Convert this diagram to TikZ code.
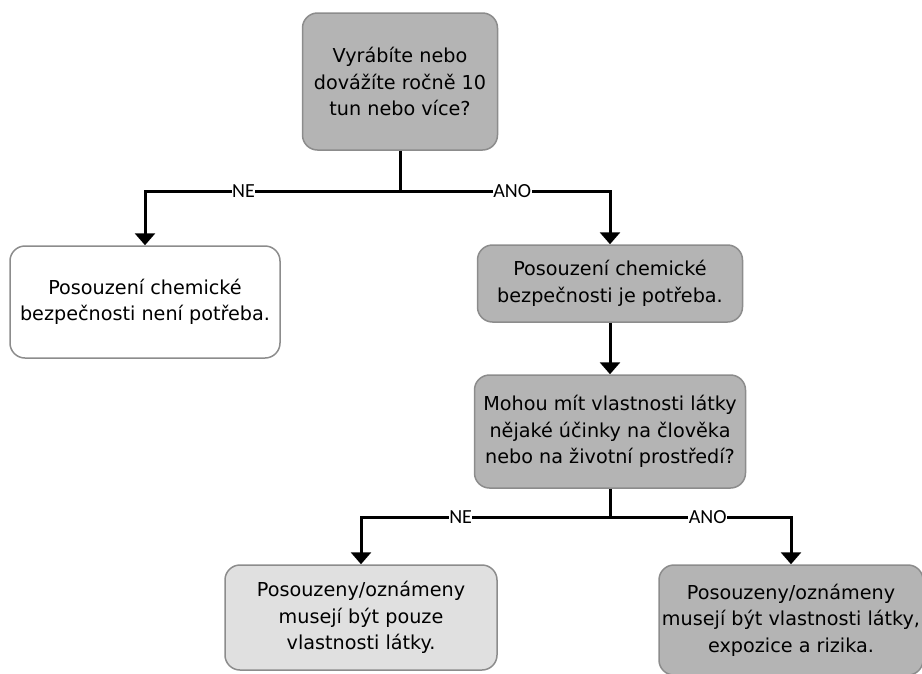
\documentclass[tikz,border=0pt]{standalone}
\usepackage{fontspec}
\setmainfont{DejaVu Sans}
\newfontfamily\labelfont{Carlito}
\usetikzlibrary{arrows.meta}

\definecolor{boxdark}{RGB}{180,180,180}
\definecolor{boxlight}{RGB}{224,224,224}
\definecolor{boxline}{RGB}{140,140,140}

\tikzset{
	box/.style={draw=boxline, line width=1.5pt, rounded corners=15pt, align=center,
		font=\fontsize{19.2}{26.5}\selectfont, inner sep=0pt},
	flow/.style={line width=3pt},
	flowarrow/.style={flow, -{Triangle[width=20pt,length=12pt]}},
	answer/.style={fill=white, inner sep=0.5pt, font=\labelfont\fontsize{20}{22}\selectfont}
}

\begin{document}
\begin{tikzpicture}[x=1pt,y=-1pt]
	\useasboundingbox (0,0) rectangle (922,673);
	\node[box, fill=boxdark, minimum width=195, minimum height=137] (tonnage) at (400,81.5)
		{Vyrábíte nebo\\dovážíte ročně 10\\tun nebo více?};
	\node[box, fill=white, minimum width=270, minimum height=112] (notneeded) at (145,302)
		{Posouzení chemické\\bezpečnosti není potřeba.};
	\node[box, fill=boxdark, minimum width=265, minimum height=77] (needed) at (610,283.5)
		{Posouzení chemické\\bezpečnosti je potřeba.};
	\node[box, fill=boxdark, minimum width=271, minimum height=113] (effects) at (610,431.5)
		{Mohou mít vlastnosti látky\\nějaké účinky na člověka\\nebo na životní prostředí?};
	\node[box, fill=boxlight, minimum width=272, minimum height=105] (propsonly) at (361,617.5)
		{Posouzeny/oznámeny\\musejí být pouze\\vlastnosti látky.};
	\node[box, fill=boxdark, minimum width=264, minimum height=110] (propsrisk) at (791,620)
		{Posouzeny/oznámeny\\musejí být vlastnosti látky,\\expozice a rizika.};

	\coordinate (split1) at (400,191);
	\coordinate (split2) at (610,517);

	\draw[flow] (tonnage.south) -- (split1);
	\draw[flowarrow] (split1) -| node[answer, pos=0.307]{NE} (notneeded.north);
	\draw[flowarrow] (split1) -| node[answer, pos=0.267]{ANO} (needed.north);
	\draw[flowarrow] (needed.south) -- (effects.north);
	\draw[flow] (effects.south) -- (split2);
	\draw[flowarrow] (split2) -| node[answer, pos=0.30]{NE} (propsonly.north);
	\draw[flowarrow] (split2) -| node[answer, pos=0.27]{ANO} (propsrisk.north);
\end{tikzpicture}
\end{document}
